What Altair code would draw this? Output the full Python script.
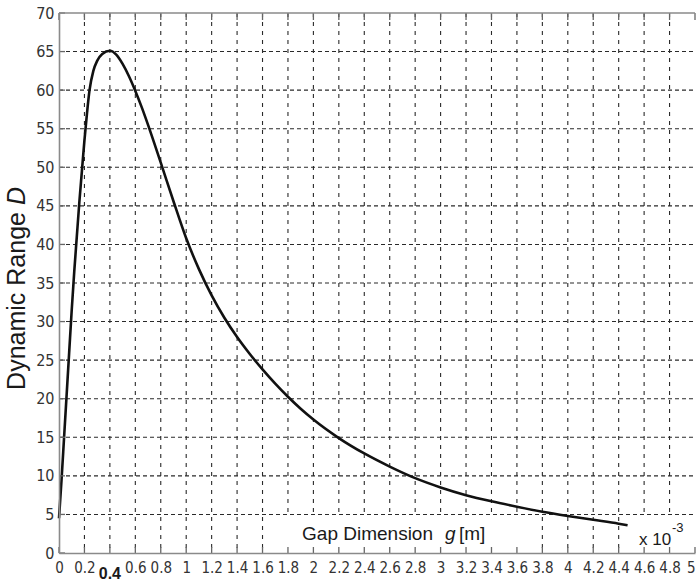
import altair as alt
import pandas as pd

# ---- data ----
g_mm = [0, 0.02, 0.04, 0.06, 0.08, 0.10, 0.12, 0.14, 0.16, 0.18, 0.20, 0.22, 0.24,
        0.27, 0.30, 0.34, 0.40, 0.45, 0.50, 0.55, 0.60, 0.65, 0.70, 0.80, 0.90,
        1.00, 1.10, 1.20, 1.30, 1.40, 1.50, 1.60, 1.70, 1.80, 1.90, 2.00, 2.20, 2.40,
        2.60, 2.80, 3.00, 3.20, 3.40, 3.60, 3.80, 4.00, 4.20, 4.40, 4.47]
dyn_range = [4.5, 9.5, 15, 20.5, 26, 31.5, 36.5, 41, 45.5, 49.5, 53.5, 57, 60,
             62.5, 63.8, 64.7, 65.1, 64.6, 63.4, 61.8, 59.9, 57.8, 55.5, 50.6, 45.6,
             40.8, 36.8, 33.4, 30.5, 28.0, 25.8, 23.8, 21.95, 20.25, 18.7, 17.3, 14.9, 12.9,
             11.2, 9.7, 8.5, 7.5, 6.7, 6.0, 5.35, 4.8, 4.3, 3.8, 3.6]
x_ticks = [0, 0.2, 0.4, 0.6, 0.8, 1, 1.2, 1.4, 1.6, 1.8, 2, 2.2, 2.4, 2.6, 2.8, 3,
           3.2, 3.4, 3.6, 3.8, 4, 4.2, 4.4, 4.6, 4.8, 5]
y_ticks = [0, 5, 10, 15, 20, 25, 30, 35, 40, 45, 50, 55, 60, 65, 70]

W, H = 636, 540
NARROW = "Liberation Sans Narrow, DejaVu Sans Condensed, Liberation Sans, Arial"
SANS = "Liberation Sans, Arial"
GRID = "#2a2a2a"
FRAME = "#8a8a8a"

curve_df = pd.DataFrame({"g": g_mm, "D": dyn_range})
xt_df = pd.DataFrame({"t": x_ticks})
yt_df = pd.DataFrame({"t": y_ticks})
one = pd.DataFrame({"k": [0]})

xs = alt.Scale(domain=[0, 5], nice=False, zero=False)
ys = alt.Scale(domain=[0, 70], nice=False, zero=False)

ax_x = alt.Axis(
    values=x_ticks, title=None, grid=False, ticks=False, tickSize=0,
    domainColor=FRAME, domainWidth=1.6, labelFont=NARROW, labelFontSize=15,
    labelColor="#333333", labelPadding=7, labelFlush=False, labelOverlap=False,
    labelAlign={"condition": {"test": "datum.value >= 4.99", "value": "right"},
                "value": "center"},
    labelExpr="abs(datum.value - 0.4) < 0.001 ? '' : format(datum.value, '~g')",
    zindex=1)
ax_y = alt.Axis(
    values=y_ticks, title=None, grid=False, ticks=False, tickSize=0,
    domainColor=FRAME, domainWidth=1.6, labelFont=NARROW, labelFontSize=16,
    labelColor="#333333", labelPadding=5, labelFlush=False, labelOverlap=False,
    zindex=1)

vgrid = alt.Chart(xt_df).transform_filter("datum.t > 0.01 && datum.t < 4.99").mark_rule(
    color=GRID, strokeWidth=1.1, strokeDash=[4, 5]
).encode(x=alt.X("t:Q", scale=xs, axis=ax_x), y=alt.value(0), y2=alt.value(H))

hgrid = alt.Chart(yt_df).transform_filter("datum.t > 0 && datum.t < 70").mark_rule(
    color=GRID, strokeWidth=1.1, strokeDash=[4, 3]
).encode(y=alt.Y("t:Q", scale=ys, axis=ax_y), x=alt.value(0), x2=alt.value(W))

box1 = alt.Chart(one).mark_rect(color="white").encode(
    x=alt.XDatum(1.7, axis=ax_x, scale=xs), x2=alt.X2Datum(3.7),
    y=alt.value(504), y2=alt.value(H))
box2 = alt.Chart(one).mark_rect(color="white").encode(
    x=alt.XDatum(4.5, axis=ax_x, scale=xs), x2=alt.value(W),
    y=alt.value(504), y2=alt.value(H))

curve = alt.Chart(curve_df).mark_line(
    color="#111111", strokeWidth=2.6, interpolate="monotone"
).encode(
    x=alt.X("g:Q", scale=xs, axis=ax_x),
    y=alt.Y("D:Q", scale=ys, axis=ax_y),
)

tick_bottom = alt.Chart(xt_df).mark_rule(color="#666666", strokeWidth=1.3).encode(
    x=alt.X("t:Q", scale=xs, axis=ax_x), y=alt.value(H), y2=alt.value(H - 6))
tick_top = alt.Chart(xt_df).mark_rule(color="#666666", strokeWidth=1.3).encode(
    x=alt.X("t:Q", scale=xs, axis=ax_x), y=alt.value(0), y2=alt.value(7))
tick_left = alt.Chart(yt_df).mark_rule(color="#666666", strokeWidth=1.3).encode(
    y=alt.Y("t:Q", scale=ys, axis=ax_y), x=alt.value(0), x2=alt.value(6))
top_border = alt.Chart(one).mark_rule(color=FRAME, strokeWidth=1.6).encode(
    x=alt.value(0), x2=alt.value(W), y=alt.value(0))

def label(text, x, y, size, font=SANS, style="normal", weight="normal",
          angle=0, align="left", baseline="alphabetic"):
    return alt.Chart(one).mark_text(
        text=text, font=font, fontSize=size, fontStyle=style, fontWeight=weight,
        angle=angle, align=align, baseline=baseline, color="#1a1a1a"
    ).encode(x=x, y=y)

texts = [
    label("Dynamic Range", alt.value(-42), alt.value(288), 25, angle=270,
          align="center", baseline="middle"),
    label("D", alt.value(-42), alt.value(183), 25, style="italic", angle=270,
          align="center", baseline="middle"),
    label("Gap Dimension", alt.value(374), alt.value(527), 19, align="right"),
    label("g", alt.value(386), alt.value(527), 19, style="italic"),
    label("[m]", alt.value(400), alt.value(527), 19),
    label("x 10", alt.value(580), alt.value(532), 17),
    label("-3", alt.value(613), alt.value(519), 13),
    label("0.4", alt.XDatum(0.4, axis=ax_x, scale=xs), alt.value(H + 21), 16,
          font=SANS, weight="bold", align="center", baseline="middle"),
]

chart = alt.layer(
    vgrid, hgrid, box1, box2, curve, tick_bottom, tick_top, tick_left, top_border, *texts
).properties(
    width=W, height=H,
    padding={"left": 59, "top": 13, "right": 1, "bottom": 29},
    autosize=alt.AutoSizeParams(type="none"),
    background="white",
).configure_view(stroke=None)

chart.save("out.html", embed_options={"renderer": "svg", "actions": False})
